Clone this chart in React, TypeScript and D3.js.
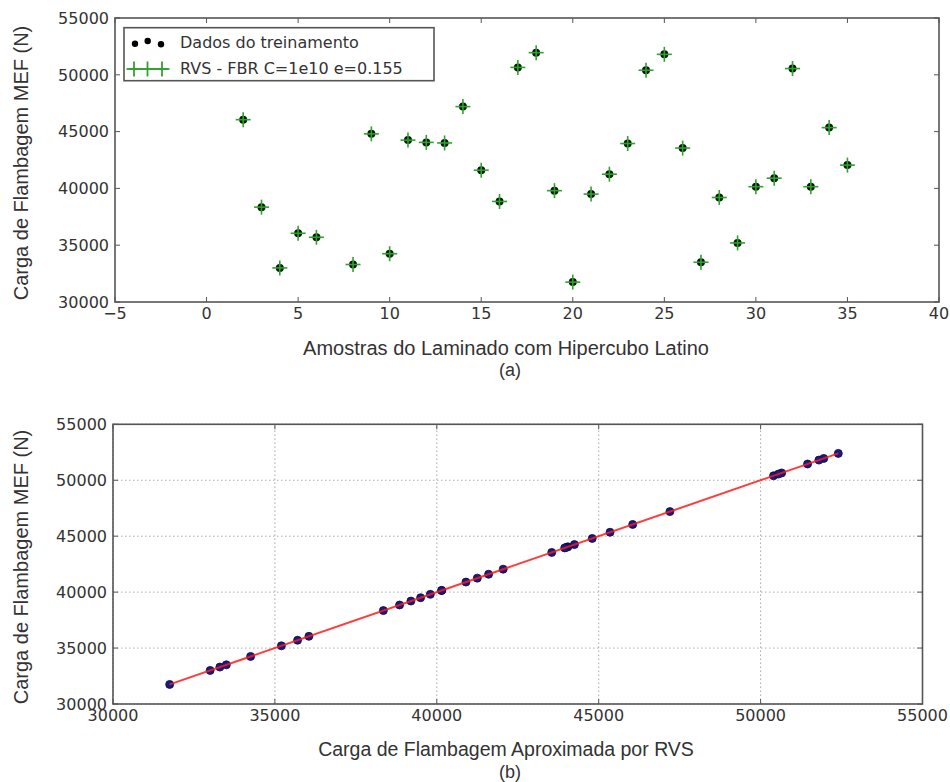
import * as d3 from "d3";

// amostras 1..35 (Hipercubo Latino)
const sampleIds = [
  1, 2, 3, 4, 5, 6, 7, 8, 9, 10, 11, 12, 13, 14, 15, 16, 17, 18,
  19, 20, 21, 22, 23, 24, 25, 26, 27, 28, 29, 30, 31, 32, 33, 34, 35,
];

// carga de flambagem MEF (N)
const mefLoad = [
  52400, 46050, 38350, 33000, 36050, 35700, 51450, 33300, 44800, 34250,
  44250, 44050, 44000, 47200, 41600, 38850, 50650, 51950, 39800, 31750,
  39500, 41250, 43950, 50400, 51800, 43550, 33500, 39200, 35200, 40150,
  40900, 50550, 40150, 45350, 42050,
];

// carga aproximada por RVS (N)
const rvsLoad = [
  52400, 46050, 38350, 33000, 36050, 35700, 51450, 33300, 44800, 34250,
  44250, 44050, 44000, 47200, 41600, 38850, 50650, 51950, 39800, 31750,
  39500, 41250, 43950, 50400, 51800, 43550, 33500, 39200, 35200, 40150,
  40900, 50550, 40150, 45350, 42050,
];

const xTicksTop = [-5, 0, 5, 10, 15, 20, 25, 30, 35, 40];
const loadTicks = [30000, 35000, 40000, 45000, 50000, 55000];

const legendLabels = ["Dados do treinamento", "RVS - FBR C=1e10 e=0.155"];

const tickFont = "'DejaVu Sans', sans-serif";
const titleFont = "'Liberation Sans', Arial, sans-serif";
const frameColor = "#555";
const textColor = "#333";
const fmt = d3.format("d");

function Frame({ x, y, xTicks, yTicks, grid }) {
  const [x0, x1] = x.range();
  const [y0, y1] = y.range();
  const tl = 5;
  return (
    <g>
      {grid &&
        xTicks.map((t) => (
          <line key={"gx" + t} x1={x(t)} x2={x(t)} y1={y0} y2={y1}
            stroke="#aaa" strokeWidth={1} strokeDasharray="1.5 2.5" />
        ))}
      {grid &&
        yTicks.map((t) => (
          <line key={"gy" + t} x1={x0} x2={x1} y1={y(t)} y2={y(t)}
            stroke="#aaa" strokeWidth={1} strokeDasharray="1.5 2.5" />
        ))}
      {xTicks.map((t) => (
        <g key={"tx" + t}>
          <line x1={x(t)} x2={x(t)} y1={y0} y2={y0 - tl} stroke={frameColor} />
          <line x1={x(t)} x2={x(t)} y1={y1} y2={y1 + tl} stroke={frameColor} />
          <text x={x(t)} y={y0 + 17} textAnchor="middle" fontFamily={tickFont}
            fontSize={16} fill={textColor}>{fmt(t)}</text>
        </g>
      ))}
      {yTicks.map((t) => (
        <g key={"ty" + t}>
          <line x1={x0} x2={x0 + tl} y1={y(t)} y2={y(t)} stroke={frameColor} />
          <line x1={x1} x2={x1 - tl} y1={y(t)} y2={y(t)} stroke={frameColor} />
          <text x={x0 - 6} y={y(t)} dy="0.36em" textAnchor="end" fontFamily={tickFont}
            fontSize={16} fill={textColor}>{fmt(t)}</text>
        </g>
      ))}
      <rect x={x0} y={y1} width={x1 - x0} height={y0 - y1} fill="none"
        stroke={frameColor} strokeWidth={1.6} />
    </g>
  );
}

function Plus({ cx, cy, s, color, w = 1.6 }) {
  return (
    <g stroke={color} strokeWidth={w}>
      <line x1={cx - s} x2={cx + s} y1={cy} y2={cy} />
      <line x1={cx} x2={cx} y1={cy - s} y2={cy + s} />
    </g>
  );
}

export default function App() {
  // (a) amostras x carga
  const xA = d3.scaleLinear().domain([-5, 40]).range([115, 939]);
  const yA = d3.scaleLinear().domain([30000, 55000]).range([302, 18]);

  // (b) aproximada x MEF
  const xB = d3.scaleLinear().domain([30000, 55000]).range([113, 922.5]);
  const yB = d3.scaleLinear().domain([30000, 55000]).range([704, 424.3]);

  const ext = d3.extent(rvsLoad);
  const fitLine = d3.line().x((d) => xB(d)).y((d) => yB(d));

  const green = "#2fa12f";
  const lx = 124, ly = 27.7;

  return (
    <svg width={950} height={782} style={{ position: "absolute", left: 0, top: 0, background: "#fff" }}>
      <Frame x={xA} y={yA} xTicks={xTicksTop} yTicks={loadTicks} grid={false} />

      {sampleIds.map((id, i) => (
        <g key={"a" + id}>
          <circle cx={xA(id)} cy={yA(mefLoad[i])} r={4} fill="#001a00" />
          <Plus cx={xA(id)} cy={yA(rvsLoad[i])} s={7.5} color={green} />
        </g>
      ))}

      {/* legenda */}
      <g>
        <rect x={lx} y={ly} width={310} height={53} fill="#fff" stroke={frameColor} strokeWidth={1.6} />
        <circle cx={lx + 11} cy={ly + 16} r={3.2} fill="#000" />
        <circle cx={lx + 23.7} cy={ly + 13.3} r={3.2} fill="#000" />
        <circle cx={lx + 37} cy={ly + 16.6} r={3.2} fill="#000" />
        <line x1={lx + 5} x2={lx + 44} y1={ly + 41.3} y2={ly + 41.3} stroke={green} strokeWidth={1.6} />
        <Plus cx={lx + 10} cy={ly + 41.3} s={7.5} color={green} w={1.8} />
        <Plus cx={lx + 23.5} cy={ly + 41.3} s={7.5} color={green} w={1.8} />
        <Plus cx={lx + 38} cy={ly + 41.3} s={7.5} color={green} w={1.8} />
        <text x={lx + 56} y={ly + 20} fontFamily={tickFont} fontSize={16} fill={textColor}>{legendLabels[0]}</text>
        <text x={lx + 56} y={ly + 46} fontFamily={tickFont} fontSize={16} fill={textColor}>{legendLabels[1]}</text>
      </g>

      <text transform="translate(28,163) rotate(-90)" textAnchor="middle" fontFamily={titleFont}
        fontSize={20} fill={textColor}>Carga de Flambagem MEF (N)</text>
      <text x={506} y={355} textAnchor="middle" fontFamily={titleFont} fontSize={20} fill={textColor}>
        Amostras do Laminado com Hipercubo Latino
      </text>
      <text x={510} y={376} textAnchor="middle" fontFamily={titleFont} fontSize={18} fill={textColor}>(a)</text>

      <Frame x={xB} y={yB} xTicks={loadTicks} yTicks={loadTicks} grid={true} />

      {rvsLoad.map((v, i) => (
        <circle key={"b" + i} cx={xB(v)} cy={yB(mefLoad[i])} r={4} fill="#1a1a80" stroke="#0a0a40" strokeWidth={0.8} />
      ))}
      <path d={fitLine(ext)} stroke="#ff1a1a" strokeWidth={2} fill="none" opacity={0.85} />

      <text transform="translate(28,567) rotate(-90)" textAnchor="middle" fontFamily={titleFont}
        fontSize={20} fill={textColor}>Carga de Flambagem MEF (N)</text>
      <text x={506} y={756} textAnchor="middle" fontFamily={titleFont} fontSize={19.5} fill={textColor}>
        Carga de Flambagem Aproximada por RVS
      </text>
      <text x={510} y={778} textAnchor="middle" fontFamily={titleFont} fontSize={18} fill={textColor}>(b)</text>
    </svg>
  );
}
